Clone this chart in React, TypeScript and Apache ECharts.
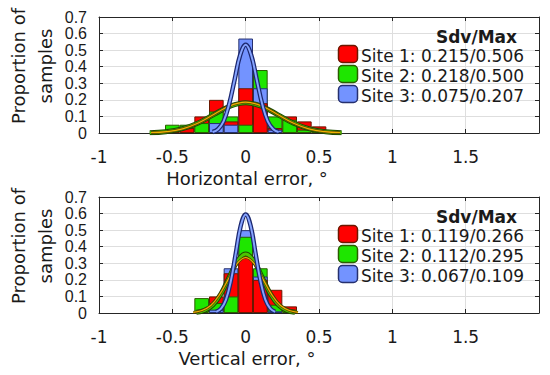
import React, { useEffect, useRef } from "react";
import * as echarts from "echarts";

// ---------- data ----------
const bins = [-0.6, -0.5, -0.4, -0.3, -0.2, -0.1, 0, 0.1, 0.2, 0.3, 0.4, 0.5, 0.6];
const xTicks = [-1, -0.5, 0, 0.5, 1, 1.5];
const yTicks = [0, 0.1, 0.2, 0.3, 0.4, 0.5, 0.6, 0.7];

const siteNames = ["Site 1", "Site 2", "Site 3"];
const horizStats = ["0.215/0.506", "0.218/0.500", "0.075/0.207"];
const vertStats = ["0.119/0.266", "0.112/0.295", "0.067/0.109"];

// histogram proportions per bin (horizontal error)
const horizSite1 = [0, 0.01, 0.03, 0.1, 0.2, 0.07, 0.27, 0.18, 0.03, 0.1, 0.07, 0.04, 0.01];
const horizSite2 = [0, 0.05, 0.05, 0.06, 0.13, 0.1, 0.05, 0.38, 0.1, 0.08, 0.02, 0.01, 0];
const horizSite3 = [0, 0, 0, 0, 0.06, 0.05, 0.57, 0.27, 0.02, 0, 0, 0, 0];

// histogram proportions per bin (vertical error)
const vertSite1 = [0, 0, 0, 0, 0.1, 0.24, 0.34, 0.2, 0.14, 0.04, 0, 0, 0];
const vertSite2 = [0, 0, 0, 0.09, 0.06, 0.1, 0.46, 0.27, 0.05, 0.02, 0, 0, 0];
const vertSite3 = [0, 0, 0, 0, 0.02, 0.27, 0.5, 0.22, 0.01, 0, 0, 0, 0];

// fitted curves (horizontal)
const hCurve1X = [-0.645, -0.538, -0.43, -0.323, -0.215, -0.108, 0, 0.108, 0.215, 0.323, 0.43, 0.538, 0.645];
const hCurve1Y = [0.002, 0.008, 0.025, 0.06, 0.113, 0.164, 0.186, 0.164, 0.113, 0.06, 0.025, 0.008, 0.002];
const hCurve2X = [-0.654, -0.545, -0.436, -0.327, -0.218, -0.109, 0, 0.109, 0.218, 0.327, 0.436, 0.545, 0.654];
const hCurve2Y = [0.002, 0.008, 0.025, 0.059, 0.111, 0.161, 0.183, 0.161, 0.111, 0.059, 0.025, 0.008, 0.002];
const hCurve3X = [-0.225, -0.188, -0.15, -0.113, -0.075, -0.038, 0, 0.038, 0.075, 0.113, 0.15, 0.188, 0.225];
const hCurve3Y = [0.006, 0.023, 0.072, 0.173, 0.323, 0.469, 0.532, 0.469, 0.323, 0.173, 0.072, 0.023, 0.006];

// fitted curves (vertical)
const vCurve1X = [-0.357, -0.298, -0.238, -0.179, -0.119, -0.06, 0, 0.06, 0.119, 0.179, 0.238, 0.298, 0.357];
const vCurve1Y = [0.004, 0.015, 0.045, 0.109, 0.203, 0.296, 0.335, 0.296, 0.203, 0.109, 0.045, 0.015, 0.004];
const vCurve2X = [-0.336, -0.28, -0.224, -0.168, -0.112, -0.056, 0, 0.056, 0.112, 0.168, 0.224, 0.28, 0.336];
const vCurve2Y = [0.004, 0.016, 0.048, 0.116, 0.216, 0.314, 0.356, 0.314, 0.216, 0.116, 0.048, 0.016, 0.004];
const vCurve3X = [-0.201, -0.168, -0.134, -0.101, -0.067, -0.034, 0, 0.034, 0.067, 0.101, 0.134, 0.168, 0.201];
const vCurve3Y = [0.007, 0.026, 0.081, 0.193, 0.361, 0.525, 0.595, 0.525, 0.361, 0.193, 0.081, 0.026, 0.007];

// ---------- styles ----------
const fills = ["#ff0000", "#1ee600", "#7393ff"];
const edges = ["#6b1800", "#2c5c00", "#26306e"];
const curveOuter = ["#5a4000", "#1e4a00", "#1c2870"];
const curveInner = ["#f0b400", "#4cc400", "#86a4ff"];
const outerW = [2.6, 5, 4.5];
const innerW = [1.2, 3, 2];
const textColor = "#1a1a1a";
const axisColor = "#262626";

const GRID_LEFT = 99;
const GRID_W = 440;
const GRID_H = 116;
const GRID_TOPS = [17, 197];
const BAR_W = (GRID_W / 3) * 0.1;

function barLayers(values: number[][], xi: number, yi: number) {
  const layers: any[][] = [[], [], []];
  bins.forEach((b, i) => {
    const order = [0, 1, 2]
      .filter((s) => values[s][i] > 0)
      .sort((a, c) => values[c][i] - values[a][i]);
    order.forEach((s, k) => {
      layers[k].push({
        value: [b, values[s][i]],
        itemStyle: { color: fills[s], borderColor: edges[s] },
      });
    });
  });
  return layers.map((data) => ({
    type: "bar",
    xAxisIndex: xi,
    yAxisIndex: yi,
    data,
    barWidth: BAR_W,
    barGap: "-100%",
    itemStyle: { borderWidth: 1 },
    silent: true,
    z: 2,
  }));
}

function curveSeries(xs: number[], ys: number[], s: number, xi: number, yi: number) {
  const data = xs.map((x, i) => [x, ys[i]]);
  const base = {
    type: "line",
    xAxisIndex: xi,
    yAxisIndex: yi,
    data,
    smooth: 0.4,
    symbol: "none",
    showSymbol: false,
    silent: true,
    z: 5,
  };
  return [
    { ...base, lineStyle: { color: curveOuter[s], width: outerW[s] } },
    { ...base, lineStyle: { color: curveInner[s], width: innerW[s] } },
  ];
}

function axesFor(g: number) {
  const common = {
    type: "value",
    gridIndex: g,
    axisLine: { show: true, onZero: false, lineStyle: { color: axisColor } },
    axisTick: { show: true, inside: true, length: 4, lineStyle: { color: axisColor } },
  };
  const xBottom = {
    ...common,
    position: "bottom",
    min: -1,
    max: 2,
    interval: 0.5,
    splitLine: { show: true, lineStyle: { color: "#dedede" } },
    axisLabel: {
      fontFamily: "DejaVu Sans",
      fontSize: 17,
      color: textColor,
      margin: 15,
      formatter: (v: number) => (xTicks.indexOf(v) >= 0 ? String(v) : ""),
    },
  };
  const xTop = {
    ...common,
    position: "top",
    min: -1,
    max: 2,
    interval: 0.5,
    splitLine: { show: false },
    axisLabel: { show: false },
  };
  const yLeft = {
    ...common,
    position: "left",
    min: 0,
    max: 0.7,
    interval: 0.1,
    splitLine: { show: true, lineStyle: { color: "#dedede" } },
    axisLabel: {
      fontFamily: "Liberation Sans",
      fontSize: 16,
      color: textColor,
      margin: 12,
      formatter: (v: number) => {
        const t = yTicks.find((y) => Math.abs(y - v) < 1e-6);
        return t === undefined ? "" : String(t);
      },
    },
  };
  const yRight = {
    ...common,
    position: "right",
    min: 0,
    max: 0.7,
    interval: 0.1,
    splitLine: { show: false },
    axisLabel: { show: false },
  };
  return { x: [xBottom, xTop], y: [yLeft, yRight] };
}

function panelGraphics(g: number, stats: string[], xName: string) {
  const top = GRID_TOPS[g];
  const els: any[] = [];
  els.push({
    type: "text",
    x: 32,
    y: top + 49,
    rotation: Math.PI / 2,
    style: {
      text: "Proportion of\nsamples",
      fontFamily: "DejaVu Sans",
      fontSize: 18,
      lineHeight: 27,
      fill: textColor,
      align: "center",
      verticalAlign: "middle",
    },
  });
  els.push({
    type: "text",
    x: 247,
    y: top + 161,
    style: {
      text: xName,
      fontFamily: "DejaVu Sans",
      fontSize: 18,
      fill: textColor,
      align: "center",
      verticalAlign: "middle",
    },
  });
  els.push({
    type: "text",
    x: 517,
    y: top + 20,
    z: 20,
    style: {
      text: "Sdv/Max",
      fontFamily: "DejaVu Sans",
      fontWeight: "bold",
      fontSize: 17,
      fill: textColor,
      align: "right",
      verticalAlign: "middle",
    },
  });
  siteNames.forEach((n, i) => {
    els.push({
      type: "rect",
      z: 20,
      shape: { x: 338.5, y: top + 28.5 + 20 * i, width: 19, height: 17, r: 4 },
      style: { fill: fills[i], stroke: edges[i], lineWidth: 1.5 },
    });
    els.push({
      type: "text",
      z: 20,
      x: 361,
      y: top + 39 + 20 * i,
      style: {
        text: `${n}: ${stats[i]}`,
        fontFamily: "DejaVu Sans",
        fontSize: 17,
        fill: textColor,
        align: "left",
        verticalAlign: "middle",
      },
    });
  });
  return els;
}

export default function App() {
  const ref = useRef<HTMLDivElement>(null);
  useEffect(() => {
    if (!ref.current) return;
    const chart = echarts.init(ref.current, undefined, { renderer: "svg" });
    const a0 = axesFor(0);
    const a1 = axesFor(1);
    const horiz = [horizSite1, horizSite2, horizSite3];
    const vert = [vertSite1, vertSite2, vertSite3];
    const option: any = {
      animation: false,
      backgroundColor: "#ffffff",
      grid: GRID_TOPS.map((t) => ({ left: GRID_LEFT, top: t, width: GRID_W, height: GRID_H })),
      xAxis: [...a0.x, ...a1.x],
      yAxis: [...a0.y, ...a1.y],
      series: [
        ...barLayers(horiz, 0, 0),
        ...curveSeries(hCurve2X, hCurve2Y, 1, 0, 0),
        ...curveSeries(hCurve1X, hCurve1Y, 0, 0, 0),
        ...curveSeries(hCurve3X, hCurve3Y, 2, 0, 0),
        ...barLayers(vert, 2, 2),
        ...curveSeries(vCurve2X, vCurve2Y, 1, 2, 2),
        ...curveSeries(vCurve1X, vCurve1Y, 0, 2, 2),
        ...curveSeries(vCurve3X, vCurve3Y, 2, 2, 2),
      ],
      graphic: [
        ...panelGraphics(0, horizStats, "Horizontal error, °"),
        ...panelGraphics(1, vertStats, "Vertical error, °"),
      ],
    };
    chart.setOption(option);
    return () => chart.dispose();
  }, []);
  return (
    <div
      ref={ref}
      style={{ position: "fixed", left: 0, top: 0, width: 550, height: 375, background: "#fff" }}
    />
  );
}
